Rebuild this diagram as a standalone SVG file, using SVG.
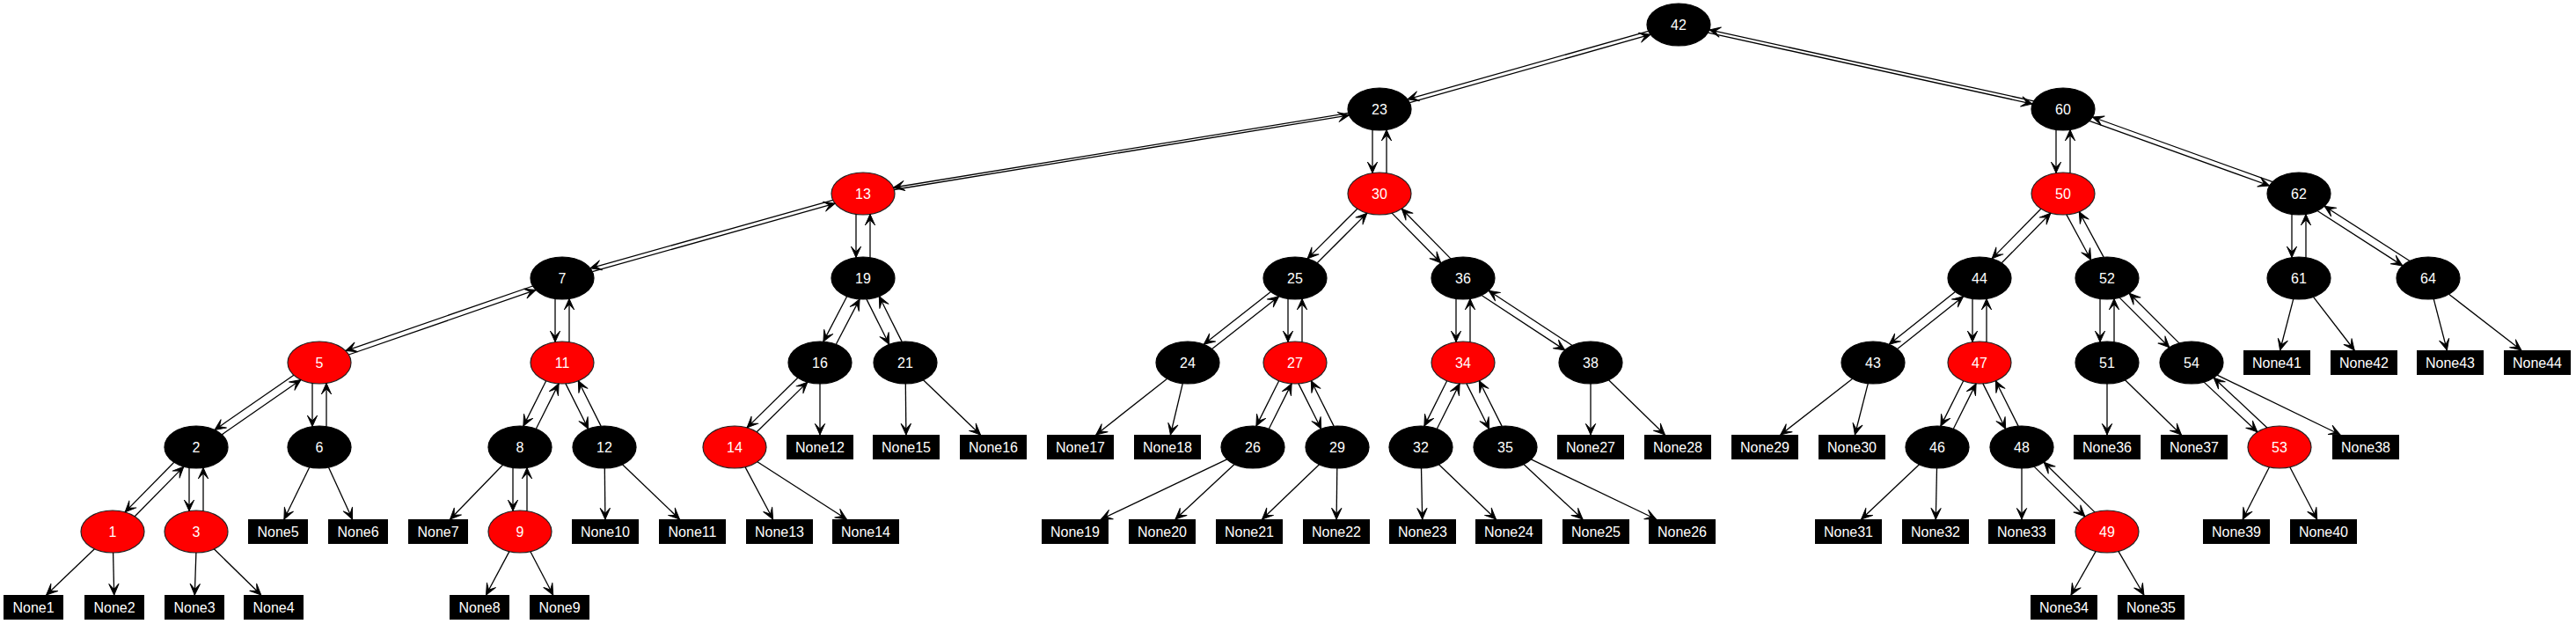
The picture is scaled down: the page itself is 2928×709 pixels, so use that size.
<svg xmlns="http://www.w3.org/2000/svg" width="2928" height="709" viewBox="0 0 2928 709">
<style>
.bk{fill:#000;stroke:#000;stroke-width:1.2}
.rd{fill:#ff0000;stroke:#222;stroke-width:1.2}
.bx{fill:#000}
text{fill:#fff;font-family:"Liberation Sans",Arial,Helvetica,sans-serif;font-size:16px;text-anchor:middle}
#edges path{fill:none;stroke:#000;stroke-width:1.3;marker-end:url(#a)}
</style>
<defs>
<marker id="a" markerUnits="userSpaceOnUse" orient="auto" viewBox="-14 -7 15 14" markerWidth="15" markerHeight="14" refX="0" refY="0" overflow="visible">
<path d="M0,0 L-12.5,-5.6 L-6.5,0 L-12.5,5.6 Z" fill="#000" stroke="#000" stroke-width="1" stroke-linejoin="round"/>
</marker>
</defs>
<rect width="2928" height="709" fill="#fff"/>
<g id="nodes">
<g id="n42"><ellipse class="bk" cx="1908" cy="28" rx="36" ry="24"/><text x="1908" y="33.5">42</text></g>
<g id="n23"><ellipse class="bk" cx="1568" cy="124" rx="36" ry="24"/><text x="1568" y="129.5">23</text></g>
<g id="n60"><ellipse class="bk" cx="2345" cy="124" rx="36" ry="24"/><text x="2345" y="129.5">60</text></g>
<g id="n13"><ellipse class="rd" cx="981" cy="220" rx="36" ry="24"/><text x="981" y="225.5">13</text></g>
<g id="n30"><ellipse class="rd" cx="1568" cy="220" rx="36" ry="24"/><text x="1568" y="225.5">30</text></g>
<g id="n50"><ellipse class="rd" cx="2345" cy="220" rx="36" ry="24"/><text x="2345" y="225.5">50</text></g>
<g id="n62"><ellipse class="bk" cx="2613" cy="220" rx="36" ry="24"/><text x="2613" y="225.5">62</text></g>
<g id="n7"><ellipse class="bk" cx="639" cy="316" rx="36" ry="24"/><text x="639" y="321.5">7</text></g>
<g id="n19"><ellipse class="bk" cx="981" cy="316" rx="36" ry="24"/><text x="981" y="321.5">19</text></g>
<g id="n25"><ellipse class="bk" cx="1472" cy="316" rx="36" ry="24"/><text x="1472" y="321.5">25</text></g>
<g id="n36"><ellipse class="bk" cx="1663" cy="316" rx="36" ry="24"/><text x="1663" y="321.5">36</text></g>
<g id="n44"><ellipse class="bk" cx="2250" cy="316" rx="36" ry="24"/><text x="2250" y="321.5">44</text></g>
<g id="n52"><ellipse class="bk" cx="2395" cy="316" rx="36" ry="24"/><text x="2395" y="321.5">52</text></g>
<g id="n61"><ellipse class="bk" cx="2613" cy="316" rx="36" ry="24"/><text x="2613" y="321.5">61</text></g>
<g id="n64"><ellipse class="bk" cx="2760" cy="316" rx="36" ry="24"/><text x="2760" y="321.5">64</text></g>
<g id="n5"><ellipse class="rd" cx="363" cy="412" rx="36" ry="24"/><text x="363" y="417.5">5</text></g>
<g id="n11"><ellipse class="rd" cx="639" cy="412" rx="36" ry="24"/><text x="639" y="417.5">11</text></g>
<g id="n16"><ellipse class="bk" cx="932" cy="412" rx="36" ry="24"/><text x="932" y="417.5">16</text></g>
<g id="n21"><ellipse class="bk" cx="1029" cy="412" rx="36" ry="24"/><text x="1029" y="417.5">21</text></g>
<g id="n24"><ellipse class="bk" cx="1350" cy="412" rx="36" ry="24"/><text x="1350" y="417.5">24</text></g>
<g id="n27"><ellipse class="rd" cx="1472" cy="412" rx="36" ry="24"/><text x="1472" y="417.5">27</text></g>
<g id="n34"><ellipse class="rd" cx="1663" cy="412" rx="36" ry="24"/><text x="1663" y="417.5">34</text></g>
<g id="n38"><ellipse class="bk" cx="1808" cy="412" rx="36" ry="24"/><text x="1808" y="417.5">38</text></g>
<g id="n43"><ellipse class="bk" cx="2129" cy="412" rx="36" ry="24"/><text x="2129" y="417.5">43</text></g>
<g id="n47"><ellipse class="rd" cx="2250" cy="412" rx="36" ry="24"/><text x="2250" y="417.5">47</text></g>
<g id="n51"><ellipse class="bk" cx="2395" cy="412" rx="36" ry="24"/><text x="2395" y="417.5">51</text></g>
<g id="n54"><ellipse class="bk" cx="2491" cy="412" rx="36" ry="24"/><text x="2491" y="417.5">54</text></g>
<g id="n2"><ellipse class="bk" cx="223" cy="508" rx="36" ry="24"/><text x="223" y="513.5">2</text></g>
<g id="n6"><ellipse class="bk" cx="363" cy="508" rx="36" ry="24"/><text x="363" y="513.5">6</text></g>
<g id="n8"><ellipse class="bk" cx="591" cy="508" rx="36" ry="24"/><text x="591" y="513.5">8</text></g>
<g id="n12"><ellipse class="bk" cx="687" cy="508" rx="36" ry="24"/><text x="687" y="513.5">12</text></g>
<g id="n14"><ellipse class="rd" cx="835" cy="508" rx="36" ry="24"/><text x="835" y="513.5">14</text></g>
<g id="n26"><ellipse class="bk" cx="1424" cy="508" rx="36" ry="24"/><text x="1424" y="513.5">26</text></g>
<g id="n29"><ellipse class="bk" cx="1520" cy="508" rx="36" ry="24"/><text x="1520" y="513.5">29</text></g>
<g id="n32"><ellipse class="bk" cx="1615" cy="508" rx="36" ry="24"/><text x="1615" y="513.5">32</text></g>
<g id="n35"><ellipse class="bk" cx="1711" cy="508" rx="36" ry="24"/><text x="1711" y="513.5">35</text></g>
<g id="n46"><ellipse class="bk" cx="2202" cy="508" rx="36" ry="24"/><text x="2202" y="513.5">46</text></g>
<g id="n48"><ellipse class="bk" cx="2298" cy="508" rx="36" ry="24"/><text x="2298" y="513.5">48</text></g>
<g id="n53"><ellipse class="rd" cx="2591" cy="508" rx="36" ry="24"/><text x="2591" y="513.5">53</text></g>
<g id="n1"><ellipse class="rd" cx="128" cy="604" rx="36" ry="24"/><text x="128" y="609.5">1</text></g>
<g id="n3"><ellipse class="rd" cx="223" cy="604" rx="36" ry="24"/><text x="223" y="609.5">3</text></g>
<g id="n9"><ellipse class="rd" cx="591" cy="604" rx="36" ry="24"/><text x="591" y="609.5">9</text></g>
<g id="n49"><ellipse class="rd" cx="2395" cy="604" rx="36" ry="24"/><text x="2395" y="609.5">49</text></g>
<g id="None1"><rect class="bx" x="4" y="676" width="68" height="28"/><text x="38" y="695.5">None1</text></g>
<g id="None2"><rect class="bx" x="96" y="676" width="68" height="28"/><text x="130" y="695.5">None2</text></g>
<g id="None3"><rect class="bx" x="187" y="676" width="68" height="28"/><text x="221" y="695.5">None3</text></g>
<g id="None4"><rect class="bx" x="277" y="676" width="68" height="28"/><text x="311" y="695.5">None4</text></g>
<g id="None5"><rect class="bx" x="282" y="590" width="68" height="28"/><text x="316" y="609.5">None5</text></g>
<g id="None6"><rect class="bx" x="373" y="590" width="68" height="28"/><text x="407" y="609.5">None6</text></g>
<g id="None7"><rect class="bx" x="464" y="590" width="68" height="28"/><text x="498" y="609.5">None7</text></g>
<g id="None8"><rect class="bx" x="511" y="676" width="68" height="28"/><text x="545" y="695.5">None8</text></g>
<g id="None9"><rect class="bx" x="602" y="676" width="68" height="28"/><text x="636" y="695.5">None9</text></g>
<g id="None10"><rect class="bx" x="650" y="590" width="76" height="28"/><text x="688" y="609.5">None10</text></g>
<g id="None11"><rect class="bx" x="749" y="590" width="76" height="28"/><text x="787" y="609.5">None11</text></g>
<g id="None12"><rect class="bx" x="894" y="494" width="76" height="28"/><text x="932" y="513.5">None12</text></g>
<g id="None13"><rect class="bx" x="848" y="590" width="76" height="28"/><text x="886" y="609.5">None13</text></g>
<g id="None14"><rect class="bx" x="946" y="590" width="76" height="28"/><text x="984" y="609.5">None14</text></g>
<g id="None15"><rect class="bx" x="992" y="494" width="76" height="28"/><text x="1030" y="513.5">None15</text></g>
<g id="None16"><rect class="bx" x="1091" y="494" width="76" height="28"/><text x="1129" y="513.5">None16</text></g>
<g id="None17"><rect class="bx" x="1190" y="494" width="76" height="28"/><text x="1228" y="513.5">None17</text></g>
<g id="None18"><rect class="bx" x="1289" y="494" width="76" height="28"/><text x="1327" y="513.5">None18</text></g>
<g id="None19"><rect class="bx" x="1184" y="590" width="76" height="28"/><text x="1222" y="609.5">None19</text></g>
<g id="None20"><rect class="bx" x="1283" y="590" width="76" height="28"/><text x="1321" y="609.5">None20</text></g>
<g id="None21"><rect class="bx" x="1382" y="590" width="76" height="28"/><text x="1420" y="609.5">None21</text></g>
<g id="None22"><rect class="bx" x="1481" y="590" width="76" height="28"/><text x="1519" y="609.5">None22</text></g>
<g id="None23"><rect class="bx" x="1579" y="590" width="76" height="28"/><text x="1617" y="609.5">None23</text></g>
<g id="None24"><rect class="bx" x="1677" y="590" width="76" height="28"/><text x="1715" y="609.5">None24</text></g>
<g id="None25"><rect class="bx" x="1776" y="590" width="76" height="28"/><text x="1814" y="609.5">None25</text></g>
<g id="None26"><rect class="bx" x="1874" y="590" width="76" height="28"/><text x="1912" y="609.5">None26</text></g>
<g id="None27"><rect class="bx" x="1770" y="494" width="76" height="28"/><text x="1808" y="513.5">None27</text></g>
<g id="None28"><rect class="bx" x="1869" y="494" width="76" height="28"/><text x="1907" y="513.5">None28</text></g>
<g id="None29"><rect class="bx" x="1968" y="494" width="76" height="28"/><text x="2006" y="513.5">None29</text></g>
<g id="None30"><rect class="bx" x="2067" y="494" width="76" height="28"/><text x="2105" y="513.5">None30</text></g>
<g id="None31"><rect class="bx" x="2063" y="590" width="76" height="28"/><text x="2101" y="609.5">None31</text></g>
<g id="None32"><rect class="bx" x="2162" y="590" width="76" height="28"/><text x="2200" y="609.5">None32</text></g>
<g id="None33"><rect class="bx" x="2260" y="590" width="76" height="28"/><text x="2298" y="609.5">None33</text></g>
<g id="None34"><rect class="bx" x="2308" y="676" width="76" height="28"/><text x="2346" y="695.5">None34</text></g>
<g id="None35"><rect class="bx" x="2407" y="676" width="76" height="28"/><text x="2445" y="695.5">None35</text></g>
<g id="None36"><rect class="bx" x="2357" y="494" width="76" height="28"/><text x="2395" y="513.5">None36</text></g>
<g id="None37"><rect class="bx" x="2456" y="494" width="76" height="28"/><text x="2494" y="513.5">None37</text></g>
<g id="None38"><rect class="bx" x="2651" y="494" width="76" height="28"/><text x="2689" y="513.5">None38</text></g>
<g id="None39"><rect class="bx" x="2504" y="590" width="76" height="28"/><text x="2542" y="609.5">None39</text></g>
<g id="None40"><rect class="bx" x="2603" y="590" width="76" height="28"/><text x="2641" y="609.5">None40</text></g>
<g id="None41"><rect class="bx" x="2550" y="398" width="76" height="28"/><text x="2588" y="417.5">None41</text></g>
<g id="None42"><rect class="bx" x="2649" y="398" width="76" height="28"/><text x="2687" y="417.5">None42</text></g>
<g id="None43"><rect class="bx" x="2747" y="398" width="76" height="28"/><text x="2785" y="417.5">None43</text></g>
<g id="None44"><rect class="bx" x="2846" y="398" width="76" height="28"/><text x="2884" y="417.5">None44</text></g>
</g>
<g id="edges">
<path d="M1873.8,35.4L1599.8,112.8"/>
<path d="M1602.3,116.6L1876.2,39.2"/>
<path d="M1941.3,37.1L2310.1,118.1"/>
<path d="M2311.7,114.9L1942.9,33.9"/>
<path d="M1532.6,128.5L1015.5,213.1"/>
<path d="M1016.4,215.5L1533.5,130.9"/>
<path d="M1560,147.4L1560,196.6"/>
<path d="M1576,196.6L1576,147.4"/>
<path d="M946.8,227.4L670.8,304.8"/>
<path d="M673.3,308.6L949.2,231.2"/>
<path d="M973,243.4L973,292.6"/>
<path d="M989,292.6L989,243.4"/>
<path d="M605.6,325L392.9,398.6"/>
<path d="M396.4,403L609.1,329.4"/>
<path d="M631,339.4L631,388.6"/>
<path d="M647,388.6L647,339.4"/>
<path d="M333.9,426.2L244,488.5"/>
<path d="M252.1,493.9L342,431.5"/>
<path d="M355,435.4L355,484.6"/>
<path d="M371,484.6L371,435.4"/>
<path d="M197.8,525.2L142.1,581.9"/>
<path d="M153.2,586.8L208.9,530.1"/>
<path d="M215,531.4L215,580.6"/>
<path d="M231,580.6L231,531.4"/>
<path d="M620.7,432.7L594.9,484.1"/>
<path d="M609.3,487.3L635.1,435.9"/>
<path d="M642.9,435.9L668.7,487.3"/>
<path d="M683.1,484.1L657.3,432.7"/>
<path d="M583,531.4L583,580.6"/>
<path d="M599,580.6L599,531.4"/>
<path d="M962.7,336.7L935.9,388.1"/>
<path d="M950.3,391.3L977.1,339.9"/>
<path d="M984.9,339.9L1010.7,391.3"/>
<path d="M1025.1,388.1L999.3,336.7"/>
<path d="M906.8,429.2L849.1,485.9"/>
<path d="M860.2,490.8L917.9,434.1"/>
<path d="M1542.8,237.2L1486.1,293.9"/>
<path d="M1497.2,298.8L1553.9,242.1"/>
<path d="M1582.1,242.1L1637.8,298.8"/>
<path d="M1648.9,293.9L1593.2,237.2"/>
<path d="M1444.4,331.4L1368.3,391.3"/>
<path d="M1377.6,396.6L1453.7,336.7"/>
<path d="M1464,339.4L1464,388.6"/>
<path d="M1480,388.6L1480,339.4"/>
<path d="M1453.7,432.7L1427.9,484.1"/>
<path d="M1442.3,487.3L1468.1,435.9"/>
<path d="M1475.9,435.9L1501.7,487.3"/>
<path d="M1516.1,484.1L1490.3,432.7"/>
<path d="M1655,339.4L1655,388.6"/>
<path d="M1671,388.6L1671,339.4"/>
<path d="M1684,335.5L1778.9,397.9"/>
<path d="M1787,392.5L1692.1,330.2"/>
<path d="M1644.7,432.7L1618.9,484.1"/>
<path d="M1633.3,487.3L1659.1,435.9"/>
<path d="M1666.9,435.9L1692.7,487.3"/>
<path d="M1707.1,484.1L1681.3,432.7"/>
<path d="M2337,147.4L2337,196.6"/>
<path d="M2353,196.6L2353,147.4"/>
<path d="M2374.9,137.4L2579.6,211"/>
<path d="M2583.1,206.6L2378.4,133"/>
<path d="M2319.8,237.2L2264.1,293.9"/>
<path d="M2275.2,298.8L2330.9,242.1"/>
<path d="M2348.9,243.9L2376.7,295.3"/>
<path d="M2391.1,292.1L2363.3,240.7"/>
<path d="M2222.4,331.4L2147.3,391.3"/>
<path d="M2156.6,396.6L2231.7,336.7"/>
<path d="M2242,339.4L2242,388.6"/>
<path d="M2258,388.6L2258,339.4"/>
<path d="M2231.7,432.7L2205.9,484.1"/>
<path d="M2220.3,487.3L2246.1,435.9"/>
<path d="M2253.9,435.9L2279.7,487.3"/>
<path d="M2294.1,484.1L2268.3,432.7"/>
<path d="M2312.1,530.1L2369.8,586.8"/>
<path d="M2380.9,581.9L2323.2,525.2"/>
<path d="M2387,339.4L2387,388.6"/>
<path d="M2403,388.6L2403,339.4"/>
<path d="M2409.1,338.1L2465.8,394.8"/>
<path d="M2476.9,389.9L2420.2,333.2"/>
<path d="M2505.1,434.1L2565.8,490.8"/>
<path d="M2576.9,485.9L2516.2,429.2"/>
<path d="M2605,243.4L2605,292.6"/>
<path d="M2621,292.6L2621,243.4"/>
<path d="M2634,239.5L2730.9,301.9"/>
<path d="M2739,296.5L2642.1,234.2"/>
<path d="M107.4,623.7L52.7,676"/>
<path d="M128.6,628L129.7,676"/>
<path d="M222.9,628L221.3,676"/>
<path d="M243.3,623.8L296.7,676"/>
<path d="M351.8,530.8L322.9,590"/>
<path d="M373.5,531L400.6,590"/>
<path d="M571.5,528.2L511.6,590"/>
<path d="M578.9,626.6L552.5,676"/>
<path d="M602.9,626.7L628.7,676"/>
<path d="M687.3,532L687.9,590"/>
<path d="M707.5,527.7L772.4,590"/>
<path d="M932,436L932,494"/>
<path d="M847,530.6L878.6,590"/>
<path d="M860.9,524.7L962.3,590"/>
<path d="M1029.3,436L1029.9,494"/>
<path d="M1049.5,431.7L1114.4,494"/>
<path d="M1326.7,430.3L1245.8,494"/>
<path d="M1344.3,435.7L1330.4,494"/>
<path d="M1394.7,521.9L1251.5,590"/>
<path d="M1403.1,527.5L1336,590"/>
<path d="M1499.5,527.7L1434.6,590"/>
<path d="M1519.8,532L1519.1,590"/>
<path d="M1615.5,532L1616.7,590"/>
<path d="M1635.5,527.7L1700.4,590"/>
<path d="M1731.9,527.5L1799,590"/>
<path d="M1740.3,521.9L1882.5,590"/>
<path d="M1808,436L1808,494"/>
<path d="M1828.5,431.7L1892.4,494"/>
<path d="M2105.7,430.3L2023.8,494"/>
<path d="M2123.3,435.7L2108.4,494"/>
<path d="M2181.5,527.7L2115.6,590"/>
<path d="M2201.5,532L2200.3,590"/>
<path d="M2298,532L2298,590"/>
<path d="M2382.2,626.4L2354,676"/>
<path d="M2407.9,626.4L2436.9,676"/>
<path d="M2395,436L2395,494"/>
<path d="M2415.5,431.7L2479.4,494"/>
<path d="M2579.4,530.7L2549.2,590"/>
<path d="M2602.8,530.7L2633.7,590"/>
<path d="M2520.1,426.1L2660.1,494"/>
<path d="M2606.8,339.6L2591.6,398"/>
<path d="M2629.5,337.3L2676.2,398"/>
<path d="M2766.2,339.6L2781.4,398"/>
<path d="M2783.5,334.2L2865.9,398"/>
</g>
</svg>
